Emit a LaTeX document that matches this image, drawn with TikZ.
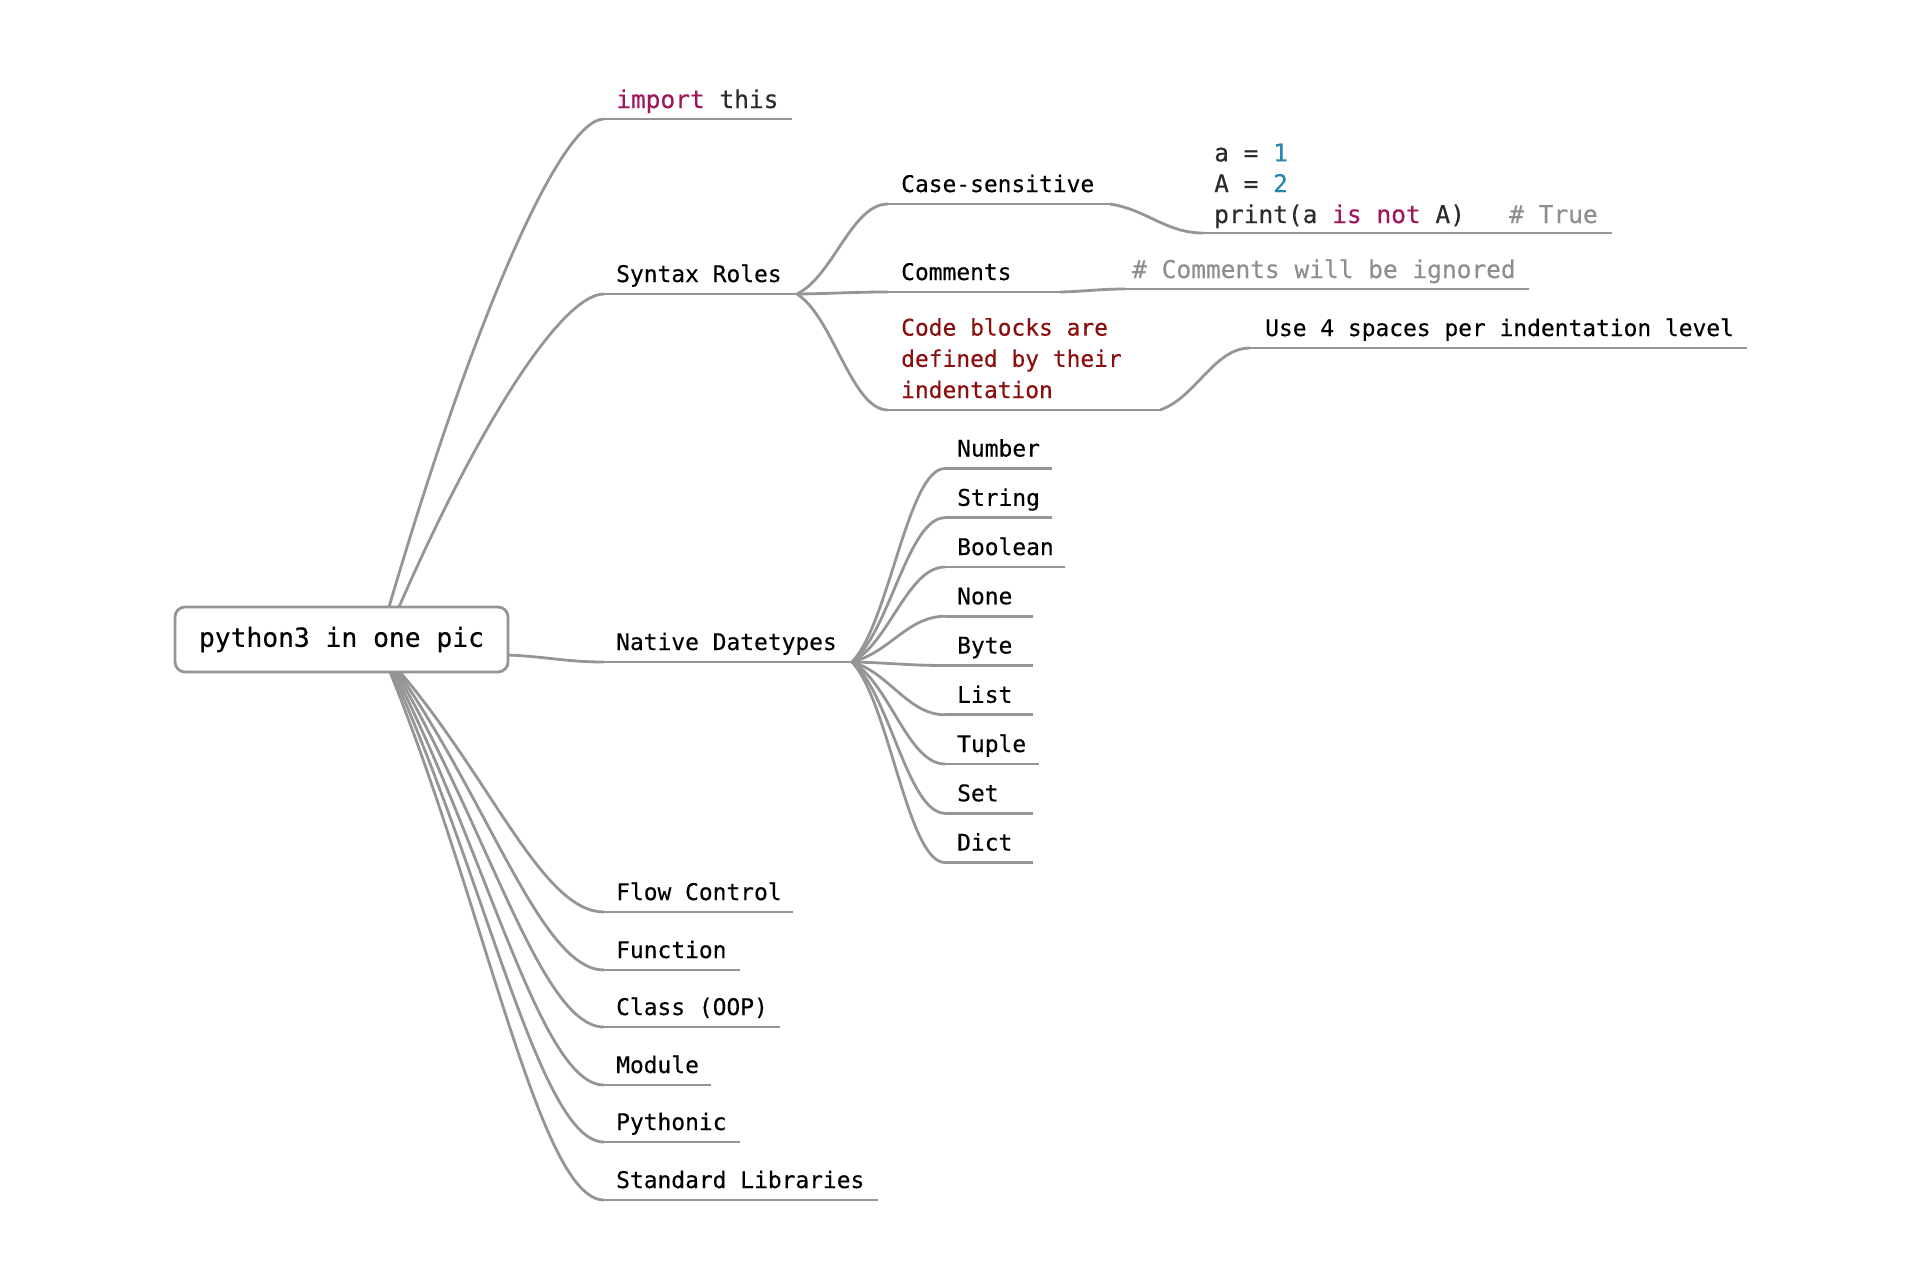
\documentclass[tikz,border=0pt]{standalone}
\usepackage{fontspec}
\usetikzlibrary{calc}
\newfontfamily\mmMono{DejaVu Sans Mono}[FakeBold=0.35]
\definecolor{linegray}{HTML}{959595}
\definecolor{txt}{HTML}{000000}
\definecolor{codetxt}{HTML}{2B2B2B}
\definecolor{kw}{HTML}{A0165C}
\definecolor{num}{HTML}{2A86AE}
\definecolor{cmt}{HTML}{8E8E8E}
\definecolor{darkred}{HTML}{8B0E0E}
\newcommand\mmLabel{\mmMono\fontsize{22.9}{31.2}\selectfont}
\newcommand\mmCode{\mmMono\fontsize{24.5}{30.8}\selectfont}
\newcommand\mmRoot{\mmMono\fontsize{26.3}{32}\selectfont}
\newcommand\mmTopLink[2]{\draw[link] let \p1=(#1), \p2=(#2) in (#1) .. controls ({\x1+0.4*(\x2-\x1)},{\y1+0.6*(\y2-\y1)}) and ({\x2-0.2*(\x2-\x1)},\y2) .. (#2);}
\newcommand\mmRootLink[2]{\draw[link] let \p1=(#1), \p2=(#2) in (#1) .. controls ({\x1+0.45*(\x2-\x1)},{\y1+0.45*(\y2-\y1)}) and ({\x2-0.3*(\x2-\x1)},\y2) .. (#2);}
\newcommand\mmSubLink[2]{\draw[link] let \p1=(#1), \p2=(#2) in (#1) .. controls ({\x1+0.4*(\x2-\x1)},{\y1+0.2*(\y2-\y1)}) and ({\x2-0.4*(\x2-\x1)},\y2) .. (#2);}
\begin{document}
\begin{tikzpicture}[x=1pt,y=-1pt,
  link/.style={draw=linegray, line width=2.8pt},
  uline/.style={draw=linegray, line width=2.8pt},
  lbl/.style={anchor=base west, inner sep=0pt, font=\mmLabel, text=txt},
  codelbl/.style={anchor=base west, inner sep=0pt, font=\mmCode, text=codetxt},
  rootbox/.style={draw=linegray, line width=2.8pt, fill=white, rounded corners=10pt,
    minimum width=333pt, minimum height=65pt, inner sep=0pt, font=\mmRoot, text=txt}]
\useasboundingbox (0,0) rectangle (1920,1280);

% root attachment points
\coordinate (rt1) at (389,607);
\coordinate (rt2) at (399,607);
\coordinate (rr) at (507,655);
\coordinate (rb1) at (400,672);
\coordinate (rb2) at (398,672);
\coordinate (rb3) at (396,672);
\coordinate (rb4) at (394,672);
\coordinate (rb5) at (392,672);
\coordinate (rb6) at (390,672);

% level 1 underlines
\coordinate (imp-s) at (604,119);  \coordinate (imp-e) at (792,119);
\coordinate (syn-s) at (604,294);  \coordinate (syn-e) at (797,294);
\coordinate (nat-s) at (604,662);  \coordinate (nat-e) at (852,662);
\coordinate (flow-s) at (604,912); \coordinate (flow-e) at (793,912);
\coordinate (func-s) at (604,970); \coordinate (func-e) at (740,970);
\coordinate (cls-s) at (604,1027); \coordinate (cls-e) at (780,1027);
\coordinate (mod-s) at (604,1085); \coordinate (mod-e) at (711,1085);
\coordinate (pyth-s) at (604,1142);\coordinate (pyth-e) at (740,1142);
\coordinate (std-s) at (604,1200); \coordinate (std-e) at (878,1200);

\foreach \q in {imp,syn,nat,flow,func,cls,mod,pyth,std}{\draw[uline] (\q-s) -- (\q-e);}

\mmTopLink{rt1}{imp-s}
\mmTopLink{rt2}{syn-s}
\mmSubLink{rr}{nat-s}
\mmRootLink{rb1}{flow-s}
\mmRootLink{rb2}{func-s}
\mmRootLink{rb3}{cls-s}
\mmRootLink{rb4}{mod-s}
\mmRootLink{rb5}{pyth-s}
\mmRootLink{rb6}{std-s}

\node[codelbl] (imp) at (616,108) {{\color{kw}import} this};
\node[lbl] (syn) at (616,282) {Syntax Roles};
\node[lbl] (nat) at (616,650) {Native Datetypes};
\node[lbl] (flow) at (616,900) {Flow Control};
\node[lbl] (func) at (616,958) {Function};
\node[lbl] (cls) at (616,1015) {Class (OOP)};
\node[lbl] (mod) at (616,1073) {Module};
\node[lbl] (pyth) at (616,1130) {Pythonic};
\node[lbl] (std) at (616,1188) {Standard Libraries};

% Syntax Roles children
\coordinate (case-s) at (888,204); \coordinate (case-e) at (1110,204);
\coordinate (com-s) at (888,292);  \coordinate (com-e) at (1060,292);
\coordinate (blk-s) at (888,410);  \coordinate (blk-e) at (1160,410);
\draw[uline] (case-s) -- (case-e);
\draw[uline] (com-s) -- (com-e);
\draw[uline] (blk-s) -- (blk-e);
\mmSubLink{syn-e}{case-s}
\mmSubLink{syn-e}{com-s}
\mmSubLink{syn-e}{blk-s}
\node[lbl] (case) at (901,192) {Case-sensitive};
\node[lbl] (com) at (901,280) {Comments};
\node[lbl, align=left, text=darkred] (blk) at (901,398) {Code blocks are\\defined by their\\indentation};

% details
\coordinate (code-s) at (1203,233); \coordinate (code-e) at (1612,233);
\coordinate (cmt-s) at (1125,289);  \coordinate (cmt-e) at (1529,289);
\coordinate (ind-s) at (1250,348);  \coordinate (ind-e) at (1747,348);
\draw[uline] (code-s) -- (code-e);
\draw[uline] (cmt-s) -- (cmt-e);
\draw[uline] (ind-s) -- (ind-e);
\mmSubLink{case-e}{code-s}
\mmSubLink{com-e}{cmt-s}
\mmSubLink{blk-e}{ind-s}
\node[codelbl, align=left] (code) at (1214,223) {a = {\color{num}1}\\A = {\color{num}2}\\print(a {\color{kw}is not} A)~~~{\color{cmt}\# True}};
\node[codelbl, text=cmt] (cmt) at (1132,278) {\# Comments will be ignored};
\node[lbl] (ind) at (1265,336) {Use 4 spaces per indentation level};

% Native Datetypes children
\foreach \nm/\yy/\xe [count=\i] in {Number/468.5/1052, String/517.75/1052, Boolean/567/1065, None/616.25/1033, Byte/665.5/1033, List/714.75/1033, Tuple/764/1039, Set/813.25/1033, Dict/862.5/1033}{
  \coordinate (dt\i-s) at (945,\yy);
  \coordinate (dt\i-e) at (\xe,\yy);
  \draw[uline] (dt\i-s) -- (dt\i-e);
  \mmSubLink{nat-e}{dt\i-s}
  \node[lbl] (dt\i) at (957,\yy-12) {\nm};
}

% root
\node[rootbox] (root) at (341.5,639.5) {\raisebox{-2.5pt}{python3 in one pic}};
\end{tikzpicture}
\end{document}
